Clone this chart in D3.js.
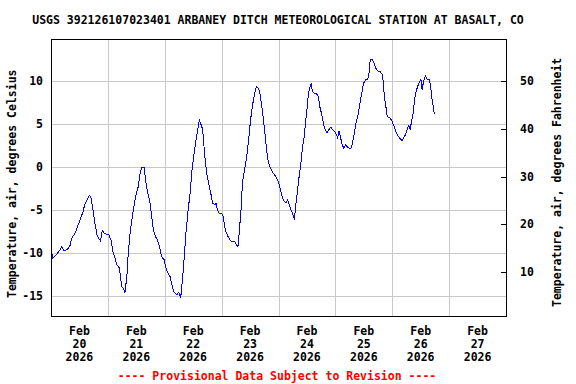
<!DOCTYPE html>
<html>
<head>
<meta charset="utf-8">
<script src="https://cdn.jsdelivr.net/npm/d3@7"></script>
<style>
  body { margin: 0; background: #fff; }
  text { font-family: "DejaVu Sans Mono", monospace; font-weight: bold; font-size: 11.5px; }
</style>
</head>
<body>
<div id="chart"></div>
<script>
// Datos (horas desde 20 feb 2026 00:00, temperatura en C)
var startDate = new Date(2026, 1, 20, 0, 0);
var endDate = new Date(2026, 1, 28, 0, 0);

var hoursSinceStart = [
  0.3, 0.8, 2.3, 3.7, 4.5, 5.3, 6.2, 7.2, 8.1, 8.7, 10.0, 10.7, 12.1, 13.5, 14.2, 15.6, 16.0, 16.8,
  17.7, 18.5, 19.4, 20.2, 20.9, 21.6, 22.5, 23.3, 24.4, 25.3, 26.1, 27.0, 27.8, 28.9, 29.8, 30.6,
  31.2, 32.0, 32.6, 33.4, 34.3, 35.1, 35.9, 36.8, 37.6, 38.2, 39.3, 39.9, 40.7, 41.8, 42.4, 43.2,
  44.1, 44.9, 45.8, 46.6, 47.7, 48.3, 49.4, 50.3, 50.8, 51.9, 53.1, 53.9, 54.7, 55.6, 56.4, 57.0,
  57.8, 58.7, 59.5, 60.4, 61.2, 62.0, 62.6, 63.4, 64.0, 64.8, 65.7, 66.5, 67.4, 68.2, 69.1, 69.6,
  70.2, 71.0, 72.1, 72.7, 73.3, 73.8, 74.7, 75.8, 77.5, 78.3, 78.9, 79.4, 80.3, 80.8, 81.7, 82.5,
  83.4, 84.2, 85.1, 85.9, 86.7, 87.6, 88.4, 89.3, 90.1, 91.0, 91.5, 92.1, 92.9, 93.8, 94.9, 96.0,
  96.8, 97.7, 98.5, 99.1, 99.9, 100.5, 101.3, 102.2, 102.7, 103.3, 103.9, 104.7, 105.3, 105.8,
  106.1, 106.7, 107.2, 107.5, 108.1, 108.6, 109.2, 109.8, 110.3, 111.2, 112.0, 112.8, 113.4,
  114.3, 115.1, 115.7, 116.5, 117.3, 118.2, 118.7, 119.6, 120.4, 121.0, 121.5, 122.1, 122.7,
  123.5, 124.4, 124.9, 125.8, 126.6, 127.2, 128.0, 128.8, 129.7, 130.5, 131.1, 131.9, 132.8,
  133.6, 134.2, 134.7, 135.6, 136.4, 137.3, 138.1, 139.0, 139.8, 140.4, 140.6, 141.2, 141.8,
  142.3, 143.2, 144.0, 144.8, 145.7, 146.5, 147.4, 148.2, 148.8, 149.6, 150.5, 151.0, 151.6,
  152.1, 152.7, 153.3, 153.8, 154.7, 155.5, 156.1, 156.6, 157.2, 158.0, 158.9, 159.7, 160.3,
  160.8, 161.4, 161.7
];

var tempC = [
  -10.0, -10.6, -10.2, -9.7, -9.3, -9.7, -9.7, -9.5, -9.1, -8.3, -7.8, -7.3, -6.3, -5.2, -4.4, -3.6, -3.35, -3.4,
  -5.0, -6.5, -7.9, -8.4, -8.6, -7.4, -7.7, -7.8, -7.9, -8.5, -9.8, -10.6, -11.4, -11.8, -13.9, -14.2,
  -14.6, -12.8, -10.0, -7.7, -5.8, -4.4, -3.2, -2.3, -0.7, -0.1, -0.1, -1.5, -2.8, -4.2, -5.6, -7.3,
  -8.1, -8.5, -9.3, -10.4, -10.8, -11.6, -12.4, -12.8, -13.5, -14.6, -14.9, -14.6, -15.3, -12.8, -9.8, -7.5,
  -5.2, -3.0, -0.3, 1.6, 3.2, 4.55, 5.45, 4.9, 4.4, 1.6, -0.7, -1.9, -3.0, -4.2, -4.4, -4.2,
  -5.0, -5.4, -5.4, -5.8, -6.9, -7.5, -8.1, -8.6, -8.7, -9.1, -9.3, -7.7, -4.6, -1.7, -0.3, 1.05,
  3.2, 5.5, 7.3, 8.6, 9.4, 9.2, 8.25, 6.3, 4.4, 2.0, 0.9, 0.3, -0.3, -0.7, -1.1, -1.7,
  -2.6, -3.6, -4.0, -4.2, -3.8, -4.4, -5.0, -5.6, -6.15, -4.4, -3.0, -1.1, 0.1, 1.4,
  2.4, 3.2, 4.55, 5.5, 6.9, 8.6, 9.2, 9.8, 8.8, 8.6, 8.6, 8.25, 7.1,
  6.1, 4.9, 4.4, 4.0, 4.4, 4.7, 4.4, 4.2, 3.8, 3.4, 4.2, 3.6, 2.8,
  2.2, 2.6, 2.4, 2.2, 2.2, 2.8, 4.0, 5.3, 6.3, 7.7, 8.6, 9.8, 10.2,
  10.2, 11.0, 12.5, 12.5, 12.1, 11.4, 11.2, 11.1, 10.8, 9.6, 8.25, 7.3, 6.1,
  5.8, 5.7, 5.3, 4.75, 4.0, 3.6, 3.3, 3.1, 3.4, 3.8, 4.55, 4.9, 4.4,
  5.3, 6.1, 7.5, 8.6, 9.4, 10.0, 10.2, 9.0, 10.0, 10.6, 10.2, 10.2, 9.2,
  7.9, 6.9, 6.2
];

var yTicksC = [10, 5, 0, -5, -10, -15];
var yTicksF = [50, 40, 30, 20, 10];
var dayLabels = ["20", "21", "22", "23", "24", "25", "26", "27"];
var monthLabel = "Feb";
var yearLabel = "2026";
var titleText = "USGS 392126107023401 ARBANEY DITCH METEOROLOGICAL STATION AT BASALT, CO";
var leftLabel = "Temperature, air, degrees Celsius";
var rightLabel = "Temperature, air, degrees Fahrenheit";
var footerText = "---- Provisional Data Subject to Revision ----";

// Dimensiones
var W = 576, H = 384;
var margin = {top: 39, right: 70, bottom: 68, left: 51};
var width = W - margin.left - margin.right;
var height = H - margin.top - margin.bottom;

var svg = d3.select('#chart').append('svg')
  .attr('width', W)
  .attr('height', H);

var chart = svg.append('g')
  .attr('transform', 'translate(' + margin.left + ',' + margin.top + ')');

var x = d3.scaleTime()
  .domain([startDate, endDate])
  .range([0, width]);

var y = d3.scaleLinear()
  .domain([-17.37, 14.95])
  .range([height, 0]);

function cToF(c) { return c * 9 / 5 + 32; }
var yF = d3.scaleLinear()
  .domain([cToF(-17.37), cToF(14.95)])
  .range([height, 0]);

var data = hoursSinceStart.map(function(h, i) {
  return {date: startDate.getTime() + h * 3600000, value: tempC[i]};
});

// Rejilla
var days = d3.timeDay.range(startDate, endDate);
chart.append('g').selectAll('line.vgrid')
  .data(days.slice(1))
  .enter().append('line')
  .attr('x1', function(d) { return Math.round(x(d)) + 0.5; })
  .attr('x2', function(d) { return Math.round(x(d)) + 0.5; })
  .attr('y1', 0).attr('y2', height)
  .style('stroke', '#c8c8c8');

chart.append('g').selectAll('line.hgrid')
  .data(yTicksC)
  .enter().append('line')
  .attr('x1', 0).attr('x2', width)
  .attr('y1', function(d) { return Math.round(y(d)) + 0.5; })
  .attr('y2', function(d) { return Math.round(y(d)) + 0.5; })
  .style('stroke', '#c8c8c8');

// Serie
var line = d3.line()
  .x(function(d) { return x(d.date); })
  .y(function(d) { return y(d.value); });

chart.append('path')
  .datum(data)
  .attr('d', line)
  .style('fill', 'none')
  .style('stroke', '#0000ff')
  .style('stroke-width', 1)
  .style('shape-rendering', 'crispEdges');

// Marco
chart.append('rect')
  .attr('x', 0.5).attr('y', 0.5)
  .attr('width', width).attr('height', height)
  .style('fill', 'none')
  .style('stroke', '#000');

// Eje izquierdo (C)
chart.append('g').selectAll('text')
  .data(yTicksC)
  .enter().append('text')
  .attr('x', -8)
  .attr('y', function(d) { return y(d); })
  .attr('dy', '0.35em')
  .style('text-anchor', 'end')
  .text(function(d) { return d; });

// Eje derecho (F)
chart.append('g').selectAll('line')
  .data(yTicksF)
  .enter().append('line')
  .attr('x1', width - 5).attr('x2', width)
  .attr('y1', function(d) { return Math.round(yF(d)) + 0.5; })
  .attr('y2', function(d) { return Math.round(yF(d)) + 0.5; })
  .style('stroke', '#000');

chart.append('g').selectAll('text')
  .data(yTicksF)
  .enter().append('text')
  .attr('x', width + 14)
  .attr('y', function(d) { return yF(d); })
  .attr('dy', '0.35em')
  .style('text-anchor', 'start')
  .text(function(d) { return d; });

// Eje X: etiquetas al mediodia
var xLabels = chart.append('g').selectAll('g')
  .data(days)
  .enter().append('g')
  .attr('transform', function(d) {
    return 'translate(' + x(d3.timeHour.offset(d, 12)) + ',' + height + ')';
  });

xLabels.append('text').attr('y', 18.5).style('text-anchor', 'middle').text(monthLabel);
xLabels.append('text').attr('y', 31.5).style('text-anchor', 'middle')
  .text(function(d, i) { return dayLabels[i]; });
xLabels.append('text').attr('y', 45).style('text-anchor', 'middle').text(yearLabel);

// Titulos
svg.append('text')
  .attr('x', 278).attr('y', 24)
  .style('text-anchor', 'middle')
  .text(titleText);

svg.append('text')
  .attr('transform', 'translate(16,298) rotate(-90)')
  .style('text-anchor', 'start')
  .text(leftLabel);

svg.append('text')
  .attr('transform', 'translate(561,307) rotate(-90)')
  .style('text-anchor', 'start')
  .text(rightLabel);

svg.append('text')
  .attr('x', 277).attr('y', 380)
  .style('text-anchor', 'middle')
  .style('fill', '#ff0000')
  .text(footerText);
</script>
</body>
</html>
